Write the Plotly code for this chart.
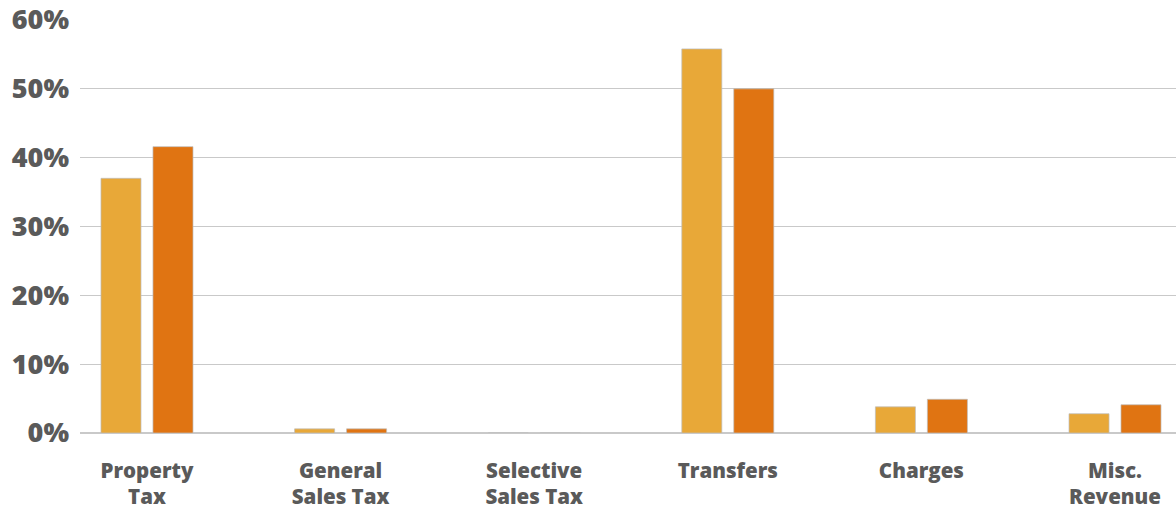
import plotly.graph_objects as go

categories = ["Property<br>Tax", "General<br>Sales Tax", "Selective<br>Sales Tax",
              "Transfers", "Charges", "Misc.<br>Revenue"]
series_a = [37.0, 0.6, 0.0, 55.8, 3.8, 2.8]
series_b = [41.6, 0.6, 0.0, 50.0, 4.9, 4.1]
y_ticks = [0, 10, 20, 30, 40, 50, 60]
y_tick_text = ["0%", "10%", "20%", "30%", "40%", "50%", "60%"]

LABEL_GRAY = "#5a5a5a"
GRID_GRAY = "#c9c9c9"
FONT = "Open Sans"

fig = go.Figure()
fig.add_trace(go.Bar(
    x=categories, y=series_a, name="Period 1",
    marker=dict(color="#E8A838", line=dict(color="rgba(190,190,190,0.7)", width=1)),
))
fig.add_trace(go.Bar(
    x=categories, y=series_b, name="Period 2",
    marker=dict(color="#E07412", line=dict(color="rgba(190,190,190,0.7)", width=1)),
))

fig.update_layout(
    width=1176, height=514,
    margin=dict(l=80, r=0, t=20, b=81),
    paper_bgcolor="white", plot_bgcolor="white",
    barmode="group", bargap=0.463, bargroupgap=0.23,
    showlegend=False,
    font=dict(family=FONT, color=LABEL_GRAY),
)
fig.update_xaxes(
    type="category", range=[-0.346, 5.315],
    showgrid=False, showline=False, ticks="",
    tickfont=dict(size=20.5, family=FONT, weight=800, color=LABEL_GRAY),
    ticklabelstandoff=23,
)
fig.update_yaxes(
    range=[0, 60], tickvals=y_ticks, ticktext=y_tick_text,
    showgrid=True, gridcolor=GRID_GRAY, gridwidth=1,
    zeroline=True, zerolinecolor=GRID_GRAY, zerolinewidth=2,
    showline=False, ticks="",
    tickfont=dict(size=27, family=FONT, weight=800, color=LABEL_GRAY),
    ticklabelstandoff=10,
)

fig.write_html("out.html")
